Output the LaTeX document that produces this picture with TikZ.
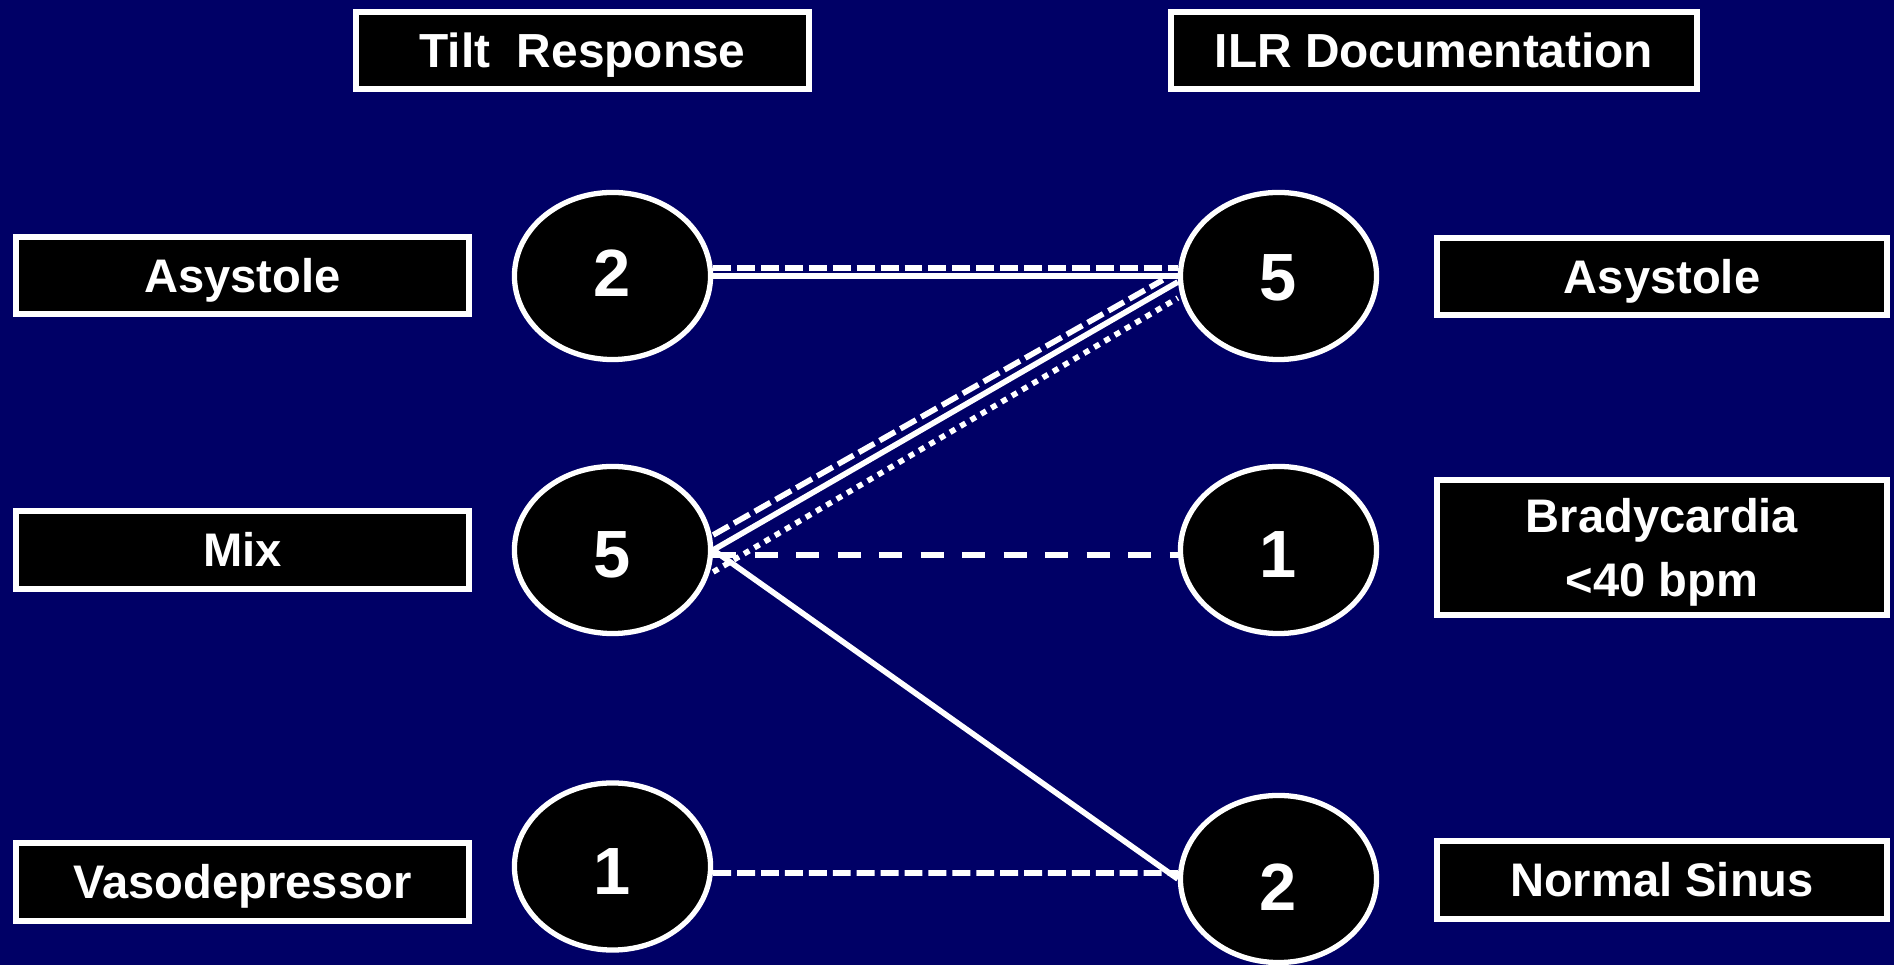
\documentclass[tikz,border=0pt]{standalone}
\usepackage{fontspec}
\setmainfont{Liberation Sans}
\usetikzlibrary{shapes.geometric}
\definecolor{bgblue}{RGB}{0,0,102}
\begin{document}
\begin{tikzpicture}[x=0.01cm,y=-0.01cm,
  box/.style={draw=white, line width=1.7pt, fill=black, text=white,
    font=\fontsize{13.4pt}{18.2pt}\selectfont\bfseries, minimum height=0.77cm,
    inner sep=0pt, align=center},
  onebox/.style={box, text height=9.6pt, text depth=0pt},
  titlebox/.style={onebox, font=\fontsize{13.6pt}{18.2pt}\selectfont\bfseries},
  oval/.style={ellipse, draw=white, line width=1.5pt, fill=black, text=white,
    minimum width=1.96cm, minimum height=1.67cm, inner sep=0pt,
    text height=0.48cm, text depth=0pt,
    font=\fontsize{19pt}{22pt}\selectfont\bfseries},
  solidline/.style={draw=white, line width=1.6pt},
  dashline/.style={draw=white, line width=1.6pt, dash pattern=on 5.1pt off 1.7pt},
  longdashline/.style={draw=white, line width=1.8pt, dash pattern=on 6.6pt off 5.2pt},
  dotline/.style={draw=white, line width=1.6pt, dash pattern=on 1.7pt off 1.7pt}]
\fill[bgblue] (0,0) rectangle (1894,965);
\useasboundingbox (0,0) rectangle (1894,965);

\node[titlebox, minimum width=4.53cm] (tr) at (582.5,50.5) {Tilt\ \ Response};
\node[titlebox, minimum width=5.25cm] (ilr) at (1434,50.5) {ILR Documentation};

\node[onebox, minimum width=4.53cm] (la) at (242.5,275.5) {Asystole};
\node[onebox, minimum width=4.53cm] (lm) at (242.5,550) {Mix};
\node[onebox, minimum width=4.53cm] (lv) at (242.5,882) {Vasodepressor};

\node[onebox, minimum width=4.50cm] (ra) at (1662,276.5) {Asystole};
\node[box, minimum width=4.50cm, minimum height=1.35cm, text height=27.8pt, text depth=0pt] (rb) at (1662,547.5) {Bradycardia\\<40 bpm};
\node[onebox, minimum width=4.50cm] (rn) at (1662,880) {Normal Sinus};

\node[oval, text height=0.42cm] (L2) at (612.5,276) {2};
\node[oval, text height=0.54cm] (L5) at (612.5,550) {5};
\node[oval, text height=0.55cm] (L1) at (612.5,866.5) {1};
\node[oval] (R5) at (1278.5,276) {5};
\node[oval, text height=0.54cm] (R1) at (1278.5,550) {1};
\node[oval, text height=0.62cm] (R2) at (1278.5,879) {2};

\draw[solidline] (L2.east) -- (R5.west);
\draw[dashline] ([yshift=0.08cm]L2.east) -- ([yshift=0.08cm]R5.west);

\draw[solidline] (L5.east) -- ([yshift=-0.06cm]R5.west);
\draw[dashline] ([yshift=0.15cm]L5.east) -- ([xshift=-0.15cm,yshift=-0.04cm]R5.west);
\draw[dotline] ([yshift=-0.22cm]L5.east) -- ([yshift=-0.22cm]R5.west);

\draw[longdashline] ([yshift=-0.05cm]L5.east) -- ([yshift=-0.05cm]R1.west);
\draw[solidline] (L5.east) -- (R2.west);
\draw[dashline] ([yshift=-0.065cm]L1.east) -- ([yshift=0.06cm]R2.west);
\end{tikzpicture}
\end{document}
